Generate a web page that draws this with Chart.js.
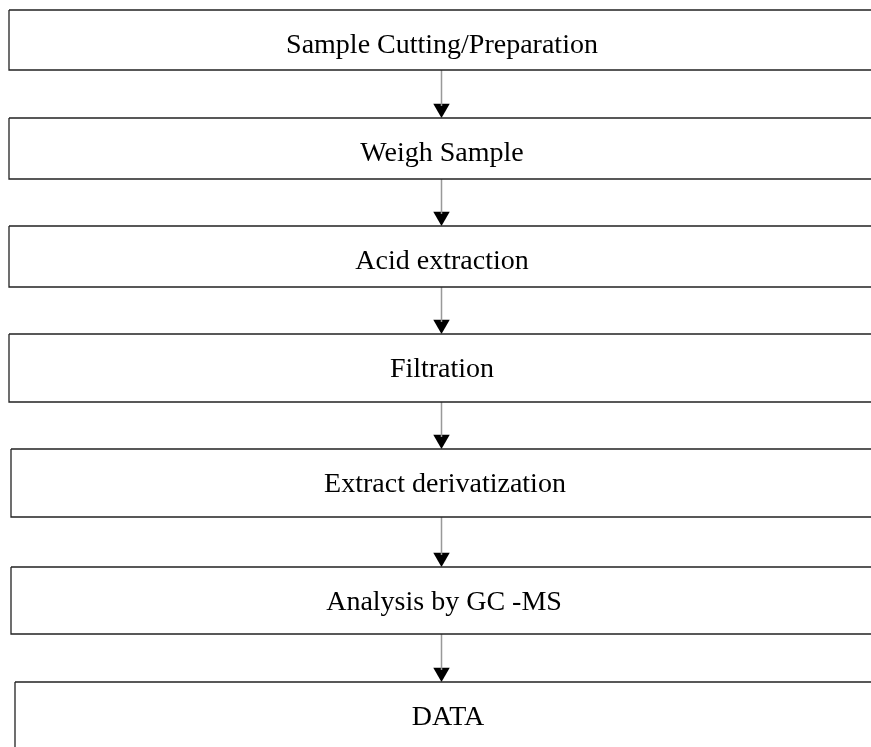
<!DOCTYPE html>
<html>
<head>
<meta charset="utf-8">
<script src="https://cdn.jsdelivr.net/npm/chart.js@4.4.1/dist/chart.umd.min.js"></script>
<style>
  html, body { margin: 0; padding: 0; background: #fff; }
  canvas { display: block; }
</style>
</head>
<body>
<canvas id="myChart" width="871" height="747"></canvas>
<script>
// flow steps, top to bottom
var steps = [
  "Sample Cutting/Preparation",
  "Weigh Sample",
  "Acid extraction",
  "Filtration",
  "Extract derivatization",
  "Analysis by GC -MS",
  "DATA"
];
// box edges, in page units (y grows downward)
var boxTop = [10, 118, 226, 334, 449, 567, 682];
var boxBottom = [70, 179, 287, 402, 517, 634, 760];
var boxLeft = [9, 9, 9, 9, 11, 11, 15];
var boxRight = 880;
var textX = [442, 442, 442, 442, 445, 444, 448];
var arrowX = 441.5;
var headR = 9.5;

var datasets = [];

for (var i = 0; i < steps.length; i++) {
  datasets.push({
    label: steps[i],
    data: [
      {x: boxLeft[i], y: boxTop[i]},
      {x: boxRight, y: boxTop[i]},
      {x: boxRight, y: boxBottom[i]},
      {x: boxLeft[i], y: boxBottom[i]},
      {x: boxLeft[i], y: boxTop[i]}
    ],
    showLine: true,
    borderColor: "#222",
    borderWidth: 1.3,
    pointRadius: 0,
    tension: 0,
    fill: false,
    clip: false
  });
}

// arrows between the boxes
for (var j = 0; j < steps.length - 1; j++) {
  datasets.push({
    label: "arrow" + j,
    data: [
      {x: arrowX, y: boxBottom[j]},
      {x: arrowX, y: boxTop[j + 1] - 12}
    ],
    showLine: true,
    borderColor: "#999",
    borderWidth: 1.5,
    pointRadius: 0,
    fill: false
  });
  datasets.push({
    label: "head" + j,
    data: [{x: arrowX, y: boxTop[j + 1] - headR}],
    showLine: false,
    pointStyle: "triangle",
    rotation: 180,
    pointRadius: headR,
    backgroundColor: "#000",
    borderColor: "#000",
    borderWidth: 0
  });
}

var stepText = {
  id: "stepText",
  afterDatasetsDraw: function(chart) {
    var ctx = chart.ctx;
    var xs = chart.scales.x;
    var ys = chart.scales.y;
    ctx.save();
    ctx.fillStyle = "#000";
    ctx.font = '28px "Liberation Serif", "Times New Roman", serif';
    ctx.textAlign = "center";
    ctx.textBaseline = "alphabetic";
    for (var i = 0; i < steps.length; i++) {
      ctx.fillText(steps[i], xs.getPixelForValue(textX[i]), ys.getPixelForValue(boxTop[i] + 43));
    }
    ctx.restore();
  }
};

new Chart("myChart", {
  type: "scatter",
  data: { datasets: datasets },
  options: {
    responsive: false,
    animation: false,
    layout: { padding: 0, autoPadding: false },
    scales: {
      x: { type: "linear", min: 0, max: 871, display: false },
      y: { type: "linear", min: 0, max: 747, reverse: true, display: false }
    },
    plugins: {
      legend: { display: false },
      tooltip: { enabled: false }
    }
  },
  plugins: [stepText]
});
</script>
</body>
</html>
